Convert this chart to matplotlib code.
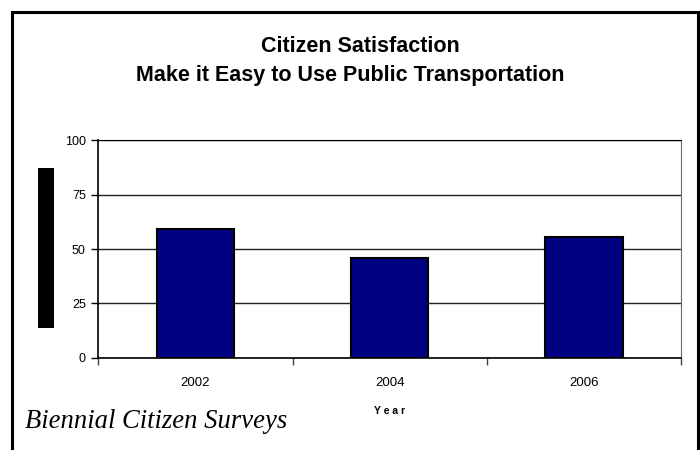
import matplotlib
matplotlib.use("Agg")
import matplotlib.pyplot as plt
from matplotlib.patches import Rectangle
from matplotlib.ticker import FixedLocator, NullFormatter

years = ["2002", "2004", "2006"]
satisfaction = [59, 46, 55.5]
y_ticks = [0, 25, 50, 75, 100]

fig = plt.figure(figsize=(7, 4.5), dpi=100)
fig.patch.set_facecolor("white")

W, H = 700, 450
ax = fig.add_axes([98.3 / W, 1 - 357.7 / H, (681 - 98.3) / W, (357.7 - 140.3) / H])

x = list(range(len(years)))
ax.bar(x, satisfaction, width=0.4, color="#000080", edgecolor="black",
       linewidth=1.5, zorder=3)

ax.set_xlim(-0.5, len(years) - 0.5)
ax.set_ylim(0, 100)
ax.set_yticks(y_ticks)
ax.set_yticklabels([str(t) for t in y_ticks], fontsize=9, family="Liberation Sans")
ax.yaxis.grid(True, color="#222222", linewidth=1.0, zorder=0)

# Category boundaries carry the tick marks; labels sit at the centres
ax.xaxis.set_major_locator(FixedLocator([i - 0.5 for i in range(len(years) + 1)]))
ax.xaxis.set_major_formatter(NullFormatter())
ax.xaxis.set_minor_locator(FixedLocator(x))
ax.set_xticklabels(years, minor=True, fontsize=9.5, family="Liberation Sans")
ax.tick_params(axis="x", which="minor", length=0, pad=14)
ax.tick_params(axis="x", which="major", length=5, width=1, color="#444444")
ax.tick_params(axis="y", length=5, width=1, pad=4)

for side in ("left", "bottom"):
    ax.spines[side].set_color("black")
    ax.spines[side].set_linewidth(1.2)
ax.spines["top"].set_color("black")
ax.spines["right"].set_color("#666666")

ax.set_xlabel("Y e a r", fontsize=7.5, fontweight="bold",
              family="Liberation Sans", labelpad=12)

fig.text(360 / W, 1 - 46 / H, "Citizen Satisfaction", ha="center", va="center",
         fontsize=15.5, fontweight="bold", family="Liberation Sans")
fig.text(350 / W, 1 - 75 / H, "Make it Easy to Use Public Transportation",
         ha="center", va="center", fontsize=15.5, fontweight="bold",
         family="Liberation Sans")

fig.text(25 / W, 1 - 421 / H, "Biennial Citizen Surveys", ha="left",
         va="center", fontsize=19.2, style="italic", family="Liberation Serif")

# Solid block standing in for the vertical axis title
fig.patches.append(Rectangle((38 / W, 1 - 328 / H), 16 / W, 160 / H,
                             transform=fig.transFigure, facecolor="black",
                             edgecolor="none"))

# Outer frame around the chart area
fig.patches.append(Rectangle((11.5 / W, -0.05), (697.5 - 11.5) / W,
                             1 - 11.5 / H + 0.05, transform=fig.transFigure,
                             facecolor="none", edgecolor="black", linewidth=2.2))

fig.savefig("out.png", dpi=100, facecolor="white")
